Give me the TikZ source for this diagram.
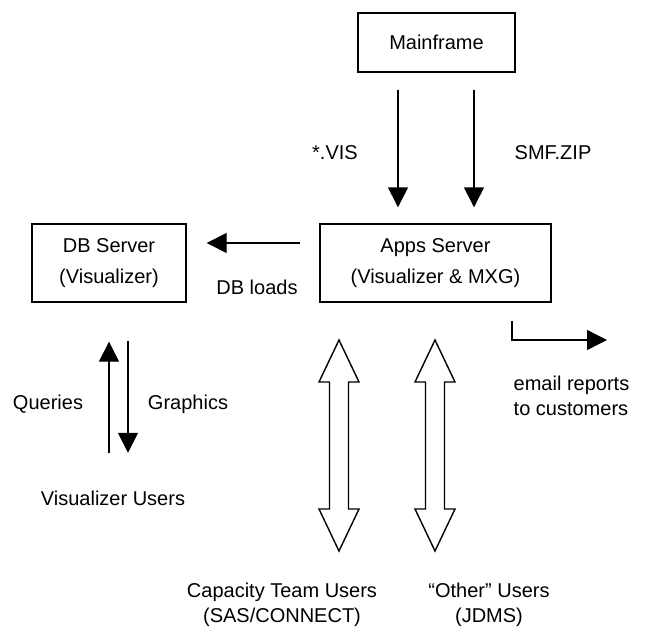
\documentclass[tikz,border=0pt]{standalone}
\usepackage{fontspec}
\setmainfont{Liberation Sans}
\usetikzlibrary{arrows.meta}

\begin{document}
\begin{tikzpicture}[x=1pt, y=-1pt, line width=1.4pt,
        font=\fontsize{20}{24.5}\selectfont,
        box/.style={draw, align=center, font=\fontsize{20}{31}\selectfont},
        lbl/.style={inner sep=0pt, anchor=base},
        users/.style={inner sep=0pt, align=center},
        flow/.style={-{Triangle[length=20pt,width=20pt]}}]
    \useasboundingbox (0,0) rectangle (646,633);

    \node[box, minimum width=157pt, minimum height=59pt] (main) at (436.5,42.5) {Mainframe};
    \node[box, minimum width=154pt, minimum height=78pt] (db) at (109,263) {DB Server\\(Visualizer)};
    \node[box, minimum width=231pt, minimum height=78pt] (apps) at (435.5,263) {Apps Server\\(Visualizer \& MXG)};

    \node[lbl] (vis) at (335,159) {*.VIS};
    \node[lbl] (smf) at (553,159) {SMF.ZIP};
    \node[lbl] (loads) at (257,294) {DB loads};
    \node[lbl] (queries) at (48,409) {Queries};
    \node[lbl] (graphics) at (188,409) {Graphics};
    \node[lbl] (vusers) at (113,505) {Visualizer Users};
    \node[users, align=left, anchor=west] (email) at (513,396) {email reports\\to customers};
    \node[users] (capteam) at (282,605) {Capacity Team Users\\(SAS/CONNECT)};
    \node[users] (others) at (489,605) {“Other” Users\\(JDMS)};
    \coordinate (mailto) at (607,340);

    \draw[flow, shorten <=17pt, shorten >=16pt] ([xshift=-38.5pt]main.south) -- ([xshift=-37.5pt]apps.north);
    \draw[flow, shorten <=17pt, shorten >=16pt] ([xshift=37.5pt]main.south) -- ([xshift=38.5pt]apps.north);
    \draw[flow, shorten <=19pt, shorten >=20pt] ([yshift=20pt]apps.west) -- ([yshift=20pt]db.east);
    \draw[flow, shorten <=18pt] ([xshift=76.5pt]apps.south) |- (mailto);
    \draw[flow, shorten <=37pt, shorten >=39pt] ([xshift=-4pt]vusers.north) -- (db.south);
    \draw[flow, shorten <=38pt, shorten >=37pt] ([xshift=19pt]db.south) -- ([xshift=15pt]vusers.north);

    % block arrows to the users
    \foreach \cx in {339,435}
        \draw (\cx,340) -- ++(20,42) -- ++(-10.5,0) -- ++(0,127) -- ++(10.5,0) -- ++(-20,42)
            -- ++(-20,-42) -- ++(10.5,0) -- ++(0,-127) -- ++(-10.5,0) -- cycle;
\end{tikzpicture}
\end{document}
